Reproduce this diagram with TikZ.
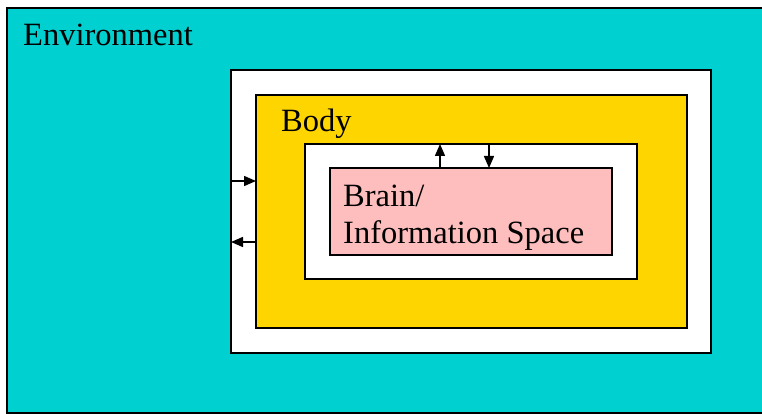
\documentclass[tikz,border=0pt]{standalone}
\usepackage{fontspec}
\setmainfont{Liberation Serif}
\usetikzlibrary{arrows.meta}
\definecolor{envc}{RGB}{0,208,208}
\definecolor{bodyc}{RGB}{255,213,0}
\definecolor{brainc}{RGB}{255,190,190}
\begin{document}
\begin{tikzpicture}[x=1pt,y=-1pt,
  box/.style={draw=black,line width=1.1pt,anchor=north west,inner sep=0pt,outer sep=0pt},
  lbl/.style={anchor=base west,inner sep=0pt,font=\fontsize{32.5}{37}\selectfont},
  arr/.style={line width=1.5pt,-{Triangle[length=12pt,width=10pt]}}]
\useasboundingbox (0,0) rectangle (762,414);
\begin{scope}
\clip (0,0) rectangle (762,414);
\node[box,fill=envc,line width=1.8pt,minimum width=790pt,minimum height=405pt] (env) at (7,8) {};
\end{scope}
\node[box,fill=white,minimum width=480pt,minimum height=283pt] (outerw) at (231,70) {};
\node[box,fill=bodyc,minimum width=431pt,minimum height=233pt] (body) at (256,95) {};
\node[box,fill=white,minimum width=332pt,minimum height=135pt] (innerw) at (305,144) {};
\node[box,fill=brainc,minimum width=282pt,minimum height=87pt] (brain) at (330,168) {};
\node[lbl] (envl) at (23,46) {Environment};
\node[lbl] (bodyl) at (281,132) {Body};
\node[lbl] (brl1) at (343,206) {Brain/};
\node[lbl] (brl2) at (343,243) {Information Space};
\coordinate (a1s) at ([yshift=-111pt]outerw.north west);
\coordinate (a2s) at ([yshift=-172pt]outerw.north west);
\draw[arr] (a1s) -- (a1s -| body.west);
\draw[arr] (a2s -| body.west) -- (a2s);
\coordinate (a3) at ([xshift=110pt]brain.north west);
\coordinate (a4) at ([xshift=159pt]brain.north west);
\draw[arr] (a3) -- (a3 |- innerw.north);
\draw[arr] (a4 |- innerw.north) -- (a4);
\end{tikzpicture}
\end{document}
